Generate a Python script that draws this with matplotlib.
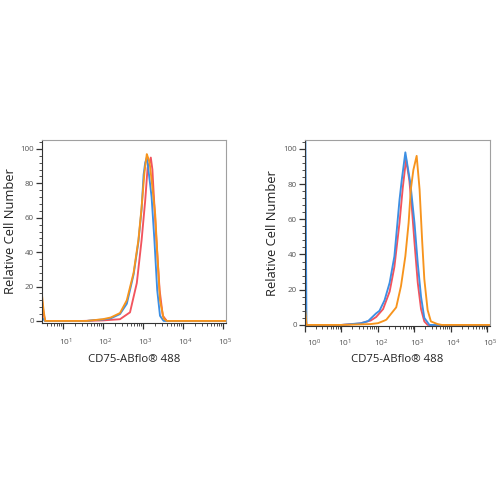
import numpy as np
import matplotlib
matplotlib.use("Agg")
import matplotlib.pyplot as plt
import matplotlib.transforms as mtransforms
from matplotlib.ticker import LogLocator, MultipleLocator, LogFormatterSciNotation

plt.rcParams['font.family'] = ['Open Sans', 'DejaVu Sans']
plt.rcParams['mathtext.fontset'] = 'custom'
plt.rcParams['mathtext.rm'] = 'Open Sans'
plt.rcParams['mathtext.it'] = 'Open Sans'
plt.rcParams['mathtext.default'] = 'regular'

# ---- data: log10(fluorescence intensity) and relative cell number ----
# Left panel
left_orange_log = [0.48, 0.52, 0.56, 1.0, 1.6, 1.8, 2.0, 2.2, 2.43, 2.6, 2.77, 2.89, 2.97, 3.04, 3.1, 3.13, 3.17, 3.22, 3.31, 3.37, 3.43, 3.52, 3.6, 5.1]
left_orange_val = [15, 6, 0, 0, 0, 0.5, 1, 2, 4.6, 12, 28, 47, 66, 86, 97, 95, 92, 82, 62, 36, 12, 1.5, 0, 0]
left_red_log = [0.48, 0.53, 0.56, 1.5, 2.0, 2.43, 2.68, 2.85, 2.97, 3.06, 3.12, 3.17, 3.2, 3.24, 3.27, 3.34, 3.42, 3.5, 3.6, 5.1]
left_red_val = [12, 3, 0, 0, 0.3, 1, 5, 22, 47, 70, 89, 92, 95, 88, 75, 47, 18, 3, 0, 0]
left_blue_log = [0.48, 0.55, 1.6, 1.8, 2.0, 2.2, 2.43, 2.6, 2.77, 2.89, 2.97, 3.02, 3.06, 3.1, 3.13, 3.18, 3.22, 3.29, 3.36, 3.43, 3.52, 5.1]
left_blue_val = [2, 0, 0, 0.5, 0.8, 1.5, 4, 10, 27, 46, 65, 85, 92, 95, 90, 80, 72, 47, 18, 3, 0, 0]

# Right panel
right_blue_log = [0.01, 0.04, 1.0, 1.54, 1.73, 1.95, 2.04, 2.18, 2.32, 2.45, 2.59, 2.65, 2.75, 2.82, 2.89, 3.0, 3.09, 3.18, 3.27, 3.41, 5.1]
right_blue_val = [110, 0, 0, 1, 2.2, 6.6, 8, 14, 24, 39, 71, 82, 98, 89, 80, 58, 35, 16, 4, 0, 0]
right_red_log = [0.01, 0.04, 1.0, 1.5, 1.8, 1.95, 2.14, 2.32, 2.45, 2.59, 2.68, 2.77, 2.86, 2.93, 3.0, 3.09, 3.18, 3.27, 3.36, 5.1]
right_red_val = [5, 0, 0, 0.8, 2.5, 4.5, 9, 19, 33, 58, 78, 94, 82, 66, 47, 24, 9, 2, 0, 0]
right_orange_log = [0.01, 0.04, 1.0, 1.8, 2.0, 2.18, 2.23, 2.5, 2.63, 2.75, 2.84, 2.9, 2.97, 3.06, 3.14, 3.21, 3.27, 3.36, 3.45, 3.63, 3.75, 5.1]
right_orange_val = [8, 0, 0, 0.5, 1, 2.5, 3, 10, 22, 39, 58, 77, 88, 96, 77, 48, 26, 8.5, 2, 0.5, 0, 0]

x_label = "CD75-ABflo\u00ae 488"
y_label = "Relative Cell Number"

C_BLUE = "#3d8fe3"
C_RED = "#f2545e"
C_ORANGE = "#f7941d"

fig = plt.figure(figsize=(5, 5), dpi=100)
axL = fig.add_axes([0.084, 0.354, 0.368, 0.366])
axR = fig.add_axes([0.610, 0.348, 0.370, 0.372])

def style(ax, xlim_log, ylim, ylabelpad, xpad, xlabelpad):
    ax.set_xscale('log')
    ax.set_xlim(10 ** xlim_log[0], 10 ** xlim_log[1])
    ax.set_ylim(*ylim)
    for s in ax.spines.values():
        s.set_color("#a0a0a0")
        s.set_linewidth(0.8)
    ax.spines['left'].set_color("#333333")
    ax.spines['bottom'].set_color("#333333")
    ax.xaxis.set_major_locator(LogLocator(base=10, numticks=10))
    ax.xaxis.set_minor_locator(LogLocator(base=10, subs=np.arange(2, 10), numticks=20))
    ax.xaxis.set_major_formatter(LogFormatterSciNotation())
    ax.yaxis.set_major_locator(MultipleLocator(20))
    ax.yaxis.set_minor_locator(MultipleLocator(4))
    ax.tick_params(axis='both', which='major', length=4, width=0.9, color="#333333",
                   labelcolor="#555555")
    ax.tick_params(axis='x', which='major', labelsize=6, pad=xpad)
    ax.tick_params(axis='y', which='major', labelsize=5.8, pad=2)
    ax.tick_params(axis='both', which='minor', length=2, width=0.6, color="#333333")
    ax.set_xlabel(x_label, fontsize=8.2, color="#222222", labelpad=xlabelpad)
    ax.set_ylabel(y_label, fontsize=9.3, color="#222222", labelpad=ylabelpad)

def plot(ax, logs, vals, color):
    ax.plot(10 ** np.asarray(logs), vals, color=color, lw=1.35, solid_joinstyle='round')

plot(axL, left_red_log, left_red_val, C_RED)
plot(axL, left_blue_log, left_blue_val, C_BLUE)
plot(axL, left_orange_log, left_orange_val, C_ORANGE)
style(axL, (0.48, 5.08), (-1.2, 105.2), 2, 6, 4.5)

plot(axR, right_red_log, right_red_val, C_RED)
plot(axR, right_blue_log, right_blue_val, C_BLUE)
plot(axR, right_orange_log, right_orange_val, C_ORANGE)
style(axR, (0.0, 5.07), (-0.6, 105), 3, 4.5, 3.5)

# small rightward offset of x tick labels as in the reference
fig.canvas.draw()
for ax in (axL, axR):
    for lbl in ax.get_xticklabels():
        off = mtransforms.ScaledTranslation(3 / 100, 0, fig.dpi_scale_trans)
        lbl.set_transform(lbl.get_transform() + off)
for lbl in axR.get_xticklabels():
    if lbl.get_position()[0] == 1.0:
        lbl.set_transform(lbl.get_transform() + mtransforms.ScaledTranslation(6 / 100, 0, fig.dpi_scale_trans))

fig.savefig("out.png", dpi=100, facecolor="white")
